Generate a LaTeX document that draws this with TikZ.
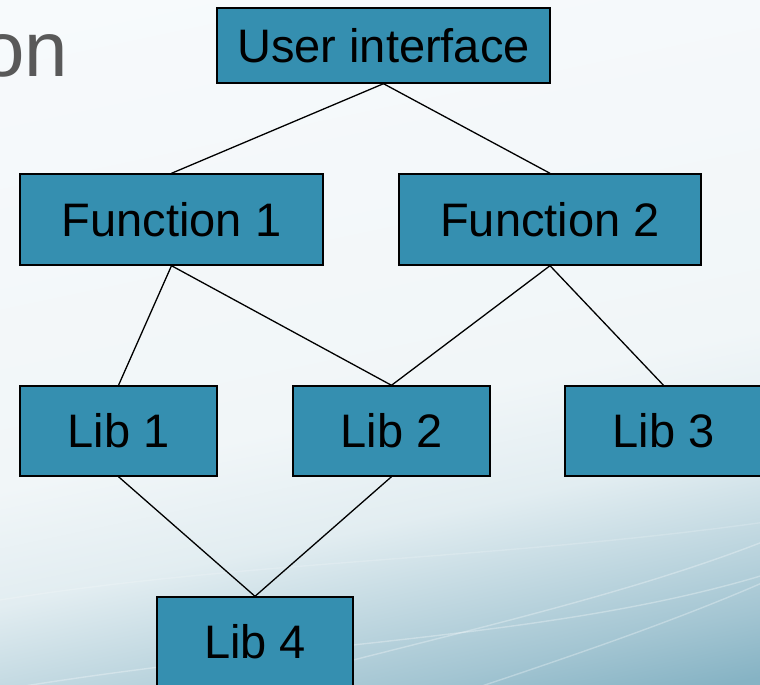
\documentclass[tikz,border=0pt]{standalone}
\usepackage{fontspec}
\setmainfont{Liberation Sans}
\definecolor{bgtop}{HTML}{F7FAFC}
\definecolor{bgmid}{HTML}{F1F6F8}
\definecolor{bgpale}{HTML}{E2EDF1}
\definecolor{bglow}{HTML}{A3C5D2}
\definecolor{bgbot}{HTML}{86B3C4}
\definecolor{boxfill}{HTML}{358FB0}
\definecolor{titlegray}{HTML}{595959}
\pgfdeclareverticalshading{bgshade}{100bp}{color(0bp)=(bgbot); color(25bp)=(bgbot); color(29bp)=(bglow); color(39bp)=(bgpale); color(46bp)=(bgmid); color(75bp)=(bgtop); color(100bp)=(bgtop)}
\tikzset{
  blk/.style={draw=black, line width=1.4pt, fill=boxfill, rectangle, inner sep=0pt,
    font=\fontsize{47}{50}\selectfont, text=black},
  link/.style={draw=black, line width=1.3pt},
  swoosh/.style={draw=white, line width=1.4pt, opacity=0.3}
}
\begin{document}
\begin{tikzpicture}[x=1pt, y=-1pt]
\useasboundingbox (0,0) rectangle (760,685);
\clip (0,0) rectangle (760,685);
\shade[shading=bgshade, shading angle=12] (-60,-60) rectangle (820,745);
% faint swooshes
\draw[swoosh] (200,700) .. controls (420,640) and (620,600) .. (780,535);
\draw[swoosh] (0,690) .. controls (300,640) and (560,640) .. (780,570);
\draw[swoosh] (440,700) .. controls (560,660) and (680,620) .. (780,575);
\draw[swoosh, opacity=0.18] (0,600) .. controls (250,560) and (500,560) .. (780,520);
% title fragment
\node[anchor=base east, inner sep=0pt, text=titlegray, font=\fontsize{78}{82}\selectfont] (title) at (68,76) {on};
% boxes
\node[blk, minimum width=333pt, minimum height=75pt] (ui) at (383.5,45.5) {User interface};
\node[blk, minimum width=303pt, minimum height=91pt] (f1) at (171.5,219.5) {Function 1};
\node[blk, minimum width=302pt, minimum height=91pt] (f2) at (550,219.5) {Function 2};
\node[blk, minimum width=197pt, minimum height=90pt] (l1) at (118.5,431) {Lib 1};
\node[blk, minimum width=197pt, minimum height=90pt] (l2) at (391.5,431) {Lib 2};
\node[blk, minimum width=197pt, minimum height=90pt] (l3) at (663.5,431) {Lib 3};
\node[blk, minimum width=196pt, minimum height=90pt] (l4) at (255,642) {Lib 4};
% connectors
\draw[link] (ui.south) -- (f1.north);
\draw[link] (ui.south) -- (f2.north);
\draw[link] (f1.south) -- (l1.north);
\draw[link] (f1.south) -- (l2.north);
\draw[link] (f2.south) -- (l2.north);
\draw[link] (f2.south) -- (l3.north);
\draw[link] (l1.south) -- (l4.north);
\draw[link] (l2.south) -- (l4.north);
\end{tikzpicture}
\end{document}
